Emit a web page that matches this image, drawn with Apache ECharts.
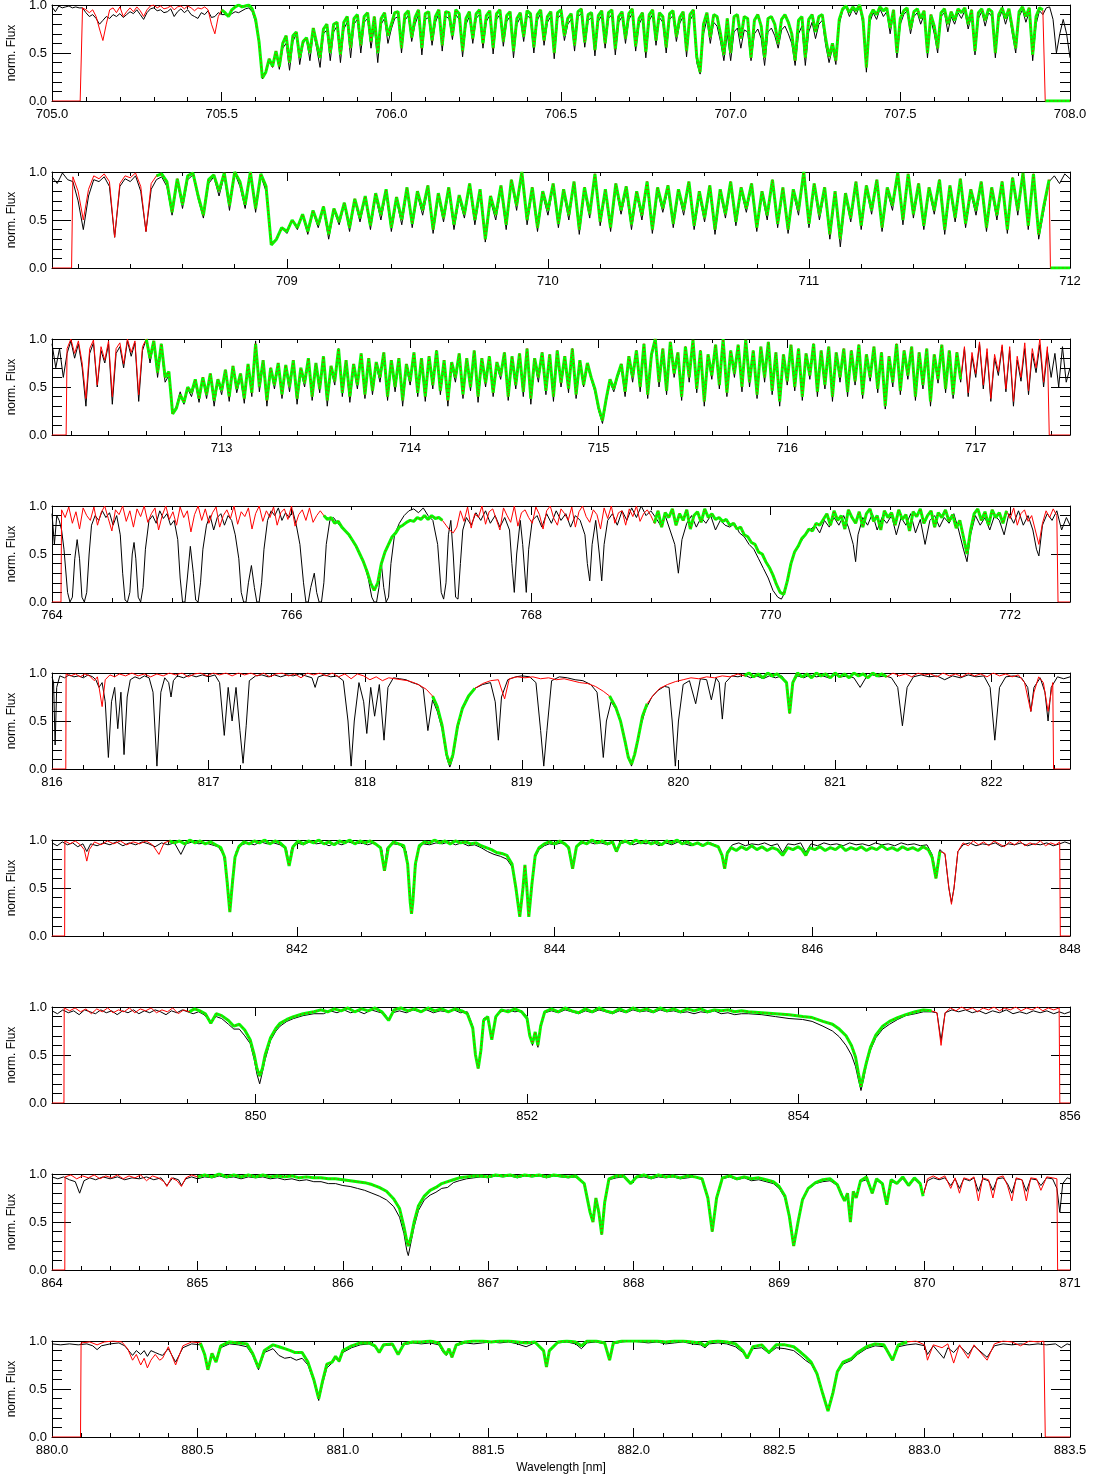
<!DOCTYPE html>
<html>
<head>
<meta charset="utf-8">
<script src="https://cdn.jsdelivr.net/npm/echarts@6/dist/echarts.min.js"></script>
<style>
  html, body { margin: 0; background: #fff; }
  #chart { width: 1093px; height: 1477px; }
</style>
</head>
<body>
<div id="chart"></div>
<script>
// ---- panel 1: 705.0 - 708.0 nm, flux in percent on a 0.01 nm grid ----
const p1Ticks = [705.0, 705.5, 706.0, 706.5, 707.0, 707.5, 708.0]
const p1Obs = [98,93,99,97,98,99,97,98,97,
  97,92,88,90,86,80,84,88,86,90,88,91,
  87,90,93,91,95,90,85,92,96,97, 94,95,92,93,96,88,93,96,92,95,
  90,88,86,92,90,94,87,88,92,90, 90,88,91,93,92,94,96,97,93,82,
  60,23,30,42,35,50,33,55,60,32, 62,70,38,60,65,42,72,55,35,70,
  74,42,72,78,40,75,82,45,80,85, 50,82,86,55,78,40,80,86,60,75,
  86,88,50,84,89,62,80,90,48,85,87,58,82,91,52,88,86,64,90,85,46,80,88,60,86,90,55,83,89,49,
  85,90,57,83,88,45,80,87,62,89,86,50,84,91,58,82,88,44,86,90,63,80,85,52,88,91,56,84,87,47,
  83,89,55,86,90,48,82,88,60,85,91,52,80,87,45,84,90,58,87,82,50,85,89,62,81,88,46,84,90,40,
  28,70,85,60,82,78,62,42,70,42, 72,76,55,74,72,42,70,75,65,37,
  72,76,68,55,74,78,70,60,37,70, 78,37,72,82,65,80,84,58,40,55,
  38,80,94,98,88,96,90,99,80,30, 82,92,85,96,88,93,70,92,45,80,
  90,94,70,88,92,80,90,45,85,70, 50,88,92,72,88,80,92,86,94,75,
  90,48,86,93,78,92,88,45,85,94, 80,92,70,50,88,95,82,93,42,80,
  94,90,97,98,85,50,70,85,70,45]
const p1Model = [97,95,92,95,88,75,63,80,95,97,92,98,
  88,93,97,93,98,94,88,95,99,100, 97,99,96,97,99,95,98,99,96,99,
  97,94,97,96,98,95,80,70,88,95, 92,88,95,98,100,98,99,100,96,85,
  62,24,30,44,36,52,36,60,68,40, 68,72,45,62,66,50,76,60,45,75,
  80,50,80,82,48,82,88,55,86,90, 58,88,92,62,88,50,86,92,68,80,
  92,93,55,90,94,66,87,95,55,91,93,63,88,95,58,93,92,68,95,91,52,86,93,65,91,95,60,89,94,55,
  91,95,62,89,93,52,86,92,67,94,91,56,90,95,63,88,93,50,92,95,68,86,91,58,93,96,61,90,92,53,
  89,94,60,92,95,54,88,93,65,91,96,57,86,92,51,90,95,63,92,88,56,91,94,67,87,93,52,90,95,46,
  30,80,92,66,90,88,70,48,86,50, 88,90,65,88,86,45,84,90,78,45,
  86,88,80,60,85,90,82,70,42,84, 88,45,85,90,72,88,90,65,46,60,
  42,85,96,99,92,98,94,100,85,35, 88,95,90,98,94,97,76,95,50,86,
  94,97,75,93,96,86,94,50,90,78, 55,92,96,80,93,84,96,92,97,80,
  95,52,92,96,84,96,93,50,90,97, 86,96,76,55,93,98,88,97,48,88,
  97,95]
const p1ModelRange = [705.083, 707.927]
const p1Fit = [[705.50, 708.0]]

// ---- panel 2: 708.1 - 712.0 nm, 0.02 nm grid ----
const p2Ticks = [709, 710, 711, 712]
const p2Obs = [95,88,99,92,
  90,70,40,75,92,90,95,85,32,85,93,90,96,80,38,82,92,
  95,85,55,90,62,92,97,72,52,88,95,75,96,60,99,85,62,99,58,96,80,26,30,42,36,50,
  40,55,35,58,42,62,30,60,45,66,38,70,48,72,
  40,74,50,78,38,70,45,80,42,76,55,82,36,74,48,80,40,72,52,85,
  45,78,27,70,50,82,40,90,60,100,45,80,38,76,55,84,42,78,50,88,
  35,80,52,98,44,78,38,84,56,80,40,76,50,86,36,80,58,82,42,78,
  55,88,40,75,48,82,35,78,52,86,44,80,58,84,38,76,50,90,42,80,
  36,78,55,100,42,84,50,80,30,76,22,74,48,86,40,82,56,90,38,80,
  60,98,45,96,52,84,40,80,56,88,35,82,48,90,42,78,55,86,38,80,
  50,88,36,92,55,98,40,96,30,60,
  90,96,88,98,93]
const p2Model = [95,80,50,82,96,93,98,90,32,88,96,94,99,85,38,88,96,
  98,90,58,93,66,96,99,75,55,92,97,80,99,65,100,90,66,100,62,98,85,24,30,42,38,50,
  42,56,38,60,45,64,35,62,48,68,42,72,52,75,
  44,78,55,82,42,74,50,84,46,80,60,86,40,78,52,84,45,76,56,88,
  50,82,30,75,55,86,45,92,65,100,50,84,42,80,60,88,46,82,55,90,
  40,84,56,98,48,82,42,88,60,85,45,80,55,90,40,84,62,86,46,82,
  60,90,44,80,52,86,40,82,56,90,48,84,62,88,42,80,55,92,46,84,
  40,82,60,100,46,88,55,84,35,80,30,78,52,90,44,86,60,92,42,84,
  65,99,50,98,56,88,44,84,60,92,40,86,52,93,46,82,60,90,42,84,
  55,90,40,94,60,99,44,98,35,65,92]
const p2ModelRange = [708.175, 711.925]
const p2Fit = [[708.49, 712.0]]

// ---- panel 3: 712.1 - 717.5 nm, 0.02 nm grid ----
const p3Ticks = [713, 714, 715, 716, 717]
const p3Obs = [95,70,90,60,
  85,98,80,95,70,30,85,96,50,88,75,95,32,85,92,70,98,82,96,35,88,100,75,96,60,90,55,62,22,30,45,32,48,
  40,55,34,58,38,62,30,56,42,66,35,70,44,60,33,72,40,98,45,75,30,68,48,72,
  38,70,45,76,32,66,50,78,36,72,44,80,30,68,52,90,40,74,34,70,48,82,38,76,42,72,55,84,36,74,
  45,78,30,70,52,85,40,76,35,80,48,88,42,74,30,72,55,82,38,78,46,86,34,76,50,80,40,72,58,84,
  36,78,48,82,40,88,32,76,55,84,42,80,35,86,50,78,44,90,38,74,
  50,72,58,45,25,12,35,55,45,60,
  70,40,78,55,85,45,92,38,80,100,50,88,42,95,60,82,36,90,55,98,44,86,30,80,58,92,48,100,40,85,
  60,92,45,98,50,86,38,90,55,96,42,84,30,80,52,92,46,88,36,82,58,94,40,86,48,90,35,84,55,88,
  40,86,52,92,38,80,56,90,44,84,27,78,50,94,42,86,58,90,36,82,48,88,30,80,54,92,44,86,38,84,
  55,90,40,82,60,95,48,86,35,80,62,92,45,88,30,78,56,90,42,85,65,94,50,88,
  60,85,50,92,55,70]
const p3Model = [90,100,85,98,75,38,90,99,52,92,78,98,40,90,96,74,100,86,98,42,92,100,80,98,65,95,60,66,22,28,42,34,50,
  44,58,38,60,42,64,36,58,46,68,40,72,48,64,38,74,44,95,50,78,36,70,52,75,
  42,73,50,78,38,70,54,80,40,75,48,82,36,72,56,90,44,78,40,74,52,85,42,80,46,76,60,86,40,78,
  50,80,36,74,56,86,44,80,40,82,52,88,46,78,36,76,60,85,42,80,50,88,40,80,54,82,44,76,62,86,
  40,82,52,85,45,90,38,80,60,86,46,84,40,88,54,82,48,90,42,78,
  52,75,60,48,28,15,38,58,48,62,
  74,45,82,60,88,50,95,42,84,100,55,90,46,97,64,86,40,92,60,99,48,88,35,84,62,94,52,100,44,88,
  64,94,50,99,55,88,42,92,60,97,46,86,35,84,56,94,50,90,40,85,62,95,45,88,52,92,40,86,60,90,
  45,88,56,94,42,84,60,92,48,86,30,82,55,95,46,88,62,92,40,86,52,90,35,84,58,94,48,88,42,86,
  58,92,44,86,64,97,52,90,38,84,66,94,48,92,35,82,60,96,46,90,70,100,55,92]
const p3ModelRange = [712.175, 717.39]
const p3Fit = [[712.60, 716.93]]

// ---- panel 4: 764 - 772.5 nm ----
const p4Ticks = [764, 766, 768, 770, 772]
const p4Obs = [[764.00,0.92],[764.02,0.6],[764.04,0.9],[764.06,0.85],[764.08,0.75],[764.10,0.55],[764.13,0.1],[764.15,0],[764.17,0.05],[764.19,0.45],[764.21,0.65],[764.23,0.45],[764.25,0.05],[764.27,0],[764.29,0.1],[764.31,0.5],[764.33,0.8],[764.36,0.9],[764.39,0.85],[764.42,0.95],[764.45,0.88],[764.48,0.93],[764.51,0.8],[764.54,0.9],[764.57,0.7],[764.59,0.3],[764.61,0.02],[764.63,0],[764.65,0.1],[764.67,0.5],[764.685,0.62],[764.70,0.45],[764.72,0.05],[764.74,0],[764.76,0.15],[764.78,0.55],[764.81,0.85],[764.84,0.9],[764.87,0.82],[764.90,0.95],[764.93,0.87],[764.96,0.92],[764.99,0.8],[765.02,0.85],[765.05,0.65],[765.07,0.25],[765.09,0],[765.11,0],[765.13,0.25],[765.155,0.58],[765.18,0.3],[765.20,0.02],[765.22,0],[765.24,0.2],[765.26,0.55],[765.29,0.8],[765.32,0.9],[765.35,0.75],[765.38,0.88],[765.41,0.92],[765.44,0.8],[765.47,0.9],[765.50,0.85],[765.53,0.7],[765.56,0.45],[765.58,0.1],[765.60,0],[765.62,0],[765.64,0.2],[765.665,0.38],[765.69,0.15],[765.71,0],[765.73,0],[765.75,0.2],[765.77,0.55],[765.80,0.85],[765.83,0.95],[765.86,0.9],[765.89,0.98],[765.92,0.85],[765.95,0.93],[765.98,0.88],[766.01,0.95],[766.04,0.8],[766.07,0.6],[766.10,0.2],[766.12,0],[766.14,0],[766.16,0.15],[766.19,0.3],[766.21,0.1],[766.23,0],[766.25,0],[766.27,0.2],[766.29,0.6],[766.32,0.85],[766.35,0.88],[766.40,0.8],[766.45,0.74],[766.50,0.65],[766.55,0.55],[766.60,0.42],[766.64,0.25],[766.67,0.05],[766.69,0],[766.71,0],[766.73,0.15],[766.75,0.4],[766.77,0.15],[766.79,0],[766.81,0.05],[766.83,0.4],[766.86,0.7],[766.90,0.82],[766.94,0.9],[766.98,0.95],[767.02,0.97],[767.06,0.93],[767.10,0.98],[767.14,0.9],[767.18,0.85],[767.22,0.6],[767.25,0.1],[767.27,0.03],[767.29,0.2],[767.31,0.7],[767.33,0.85],[767.35,0.5],[767.37,0.05],[767.39,0.03],[767.41,0.4],[767.43,0.75],[767.46,0.88],[767.50,0.8],[767.54,0.93],[767.58,0.85],[767.62,0.95],[767.66,0.82],[767.70,0.9],[767.74,0.78],[767.78,0.88],[767.82,0.75],[767.84,0.4],[767.86,0.1],[767.88,0.5],[767.91,0.85],[767.93,0.6],[767.96,0.1],[767.98,0.55],[768.01,0.85],[768.05,0.9],[768.09,0.78],[768.13,0.92],[768.17,0.82],[768.21,0.95],[768.25,0.85],[768.29,0.92],[768.33,0.78],[768.37,0.9],[768.41,0.85],[768.45,0.7],[768.47,0.4],[768.49,0.22],[768.51,0.6],[768.54,0.85],[768.57,0.5],[768.59,0.22],[768.61,0.6],[768.64,0.85],[768.68,0.92],[768.72,0.8],[768.76,0.95],[768.80,0.85],[768.84,0.98],[768.88,0.88],[768.92,1.0],[768.96,0.9],[769.00,0.95],[769.04,0.88],[769.08,0.8],[769.12,0.9],[769.16,0.75],[769.20,0.6],[769.23,0.3],[769.26,0.65],[769.30,0.82],[769.34,0.9],[769.38,0.78],[769.42,0.88],[769.46,0.82],[769.50,0.9],[769.54,0.75],[769.58,0.85],[769.62,0.8],[769.66,0.78],[769.70,0.82],[769.74,0.72],[769.78,0.68],[769.82,0.6],[769.86,0.55],[769.90,0.45],[769.94,0.35],[769.98,0.25],[770.02,0.12],[770.06,0.05],[770.09,0.03],[770.12,0.1],[770.15,0.3],[770.18,0.45],[770.21,0.55],[770.25,0.62],[770.29,0.7],[770.33,0.75],[770.37,0.8],[770.41,0.72],[770.45,0.85],[770.49,0.78],[770.53,0.88],[770.57,0.8],[770.61,0.9],[770.65,0.78],[770.69,0.6],[770.71,0.42],[770.73,0.7],[770.77,0.88],[770.81,0.8],[770.85,0.92],[770.89,0.75],[770.93,0.88],[770.97,0.82],[771.01,0.9],[771.05,0.7],[771.09,0.88],[771.13,0.8],[771.17,0.92],[771.21,0.72],[771.25,0.86],[771.29,0.6],[771.33,0.85],[771.37,0.9],[771.41,0.78],[771.45,0.88],[771.49,0.82],[771.53,0.92],[771.57,0.75],[771.61,0.55],[771.64,0.42],[771.67,0.7],[771.71,0.9],[771.75,0.8],[771.79,0.88],[771.83,0.75],[771.87,0.9],[771.91,0.85],[771.95,0.7],[771.99,0.92],[772.03,0.82],[772.07,0.95],[772.11,0.8],[772.15,0.9],[772.19,0.75],[772.22,0.55],[772.24,0.48],[772.27,0.8],[772.31,0.92],[772.35,0.85],[772.39,0.95],[772.43,0.75],[772.47,0.88],[772.50,0.8]]
// model on a 0.03 nm grid from 764.08 nm, percent
const p4Model = [96,88,99,82,94,76,98,90,85,99, 80,93,100,87,74,96,91,100,84,95,
  78,97,89,100,83,92,98,75,90,100, 86,94,80,99,88,95,73,91,100,85,
  97,82,93,99,78,90,96,87,100,81, 94,89,98,76,92,100,84,95,88,99,
  80,93,97,86,100,79,91,96,85,98, 83,90,95,
  90,86,88,82,84,78,74,70,64,58,50,42,32,20,12,20,40,52,60,68,72,78,80,83,85,84,88,86,90,
  86,90,87,88,85,80,75,72,78,
  95,84,99,77,92,88,100,81,94,97, 86,75,98,90,83,100,79,93,96,88,
  82,99,91,76,95,100,87,80,97,92, 85,99,78,94,100,89,83,96,91,76,
  98,87,100,82,93,95,80,97,89,100, 84,92,96,
  90,82,95,78,93,88,97,80,92,85,96,76,90,94,83,97,88,92,86,
  88,84,86,80,82,76,78,70,68,62,60,52,50,42,36,28,18,10,8,22,40,52,58,66,70,76,74,82,80,86,
  92,80,95,85,90,76,96,88,82,94, 78,92,97,84,90,75,95,88,93,80,
  96,86,91,74,94,89,97,82,90,95, 78,93,88,96,84,91,77,85,68,50,
  75,92,97,85,94,80,96,88,93,82, 95,87,98,80,92,96,84,90,75,60,
  82,95,88,97,90]
const p4ModelRange = [764.075, 772.40]
const p4Fit = [[766.26, 767.26], [769.03, 771.97]]

// ---- panel 5: 816 - 822.5 nm ----
const p5Ticks = [816, 817, 818, 819, 820, 821, 822]
const p5Obs = [[816.00,0.96],[816.01,0.9],[816.02,0.25],[816.03,0.85],[816.05,0.97],[816.08,0.95],[816.11,0.98],[816.14,0.96],[816.17,0.97],[816.20,0.95],[816.23,0.98],[816.26,0.96],[816.28,0.93],[816.30,0.85],[816.32,0.9],[816.34,0.7],[816.36,0.12],[816.38,0.7],[816.40,0.85],[816.42,0.42],[816.44,0.8],[816.46,0.15],[816.48,0.75],[816.50,0.93],[816.53,0.96],[816.56,0.94],[816.59,0.97],[816.62,0.95],[816.645,0.8],[816.67,0.03],[816.695,0.8],[816.72,0.95],[816.745,0.9],[816.76,0.75],[816.775,0.92],[816.80,0.97],[816.84,0.95],[816.88,0.98],[816.92,0.96],[816.96,0.98],[817.00,0.96],[817.04,0.98],[817.07,0.9],[817.10,0.35],[817.125,0.85],[817.15,0.5],[817.175,0.85],[817.20,0.4],[817.22,0.06],[817.24,0.45],[817.26,0.92],[817.30,0.97],[817.34,0.98],[817.38,0.96],[817.42,0.98],[817.46,0.96],[817.50,0.98],[817.54,0.97],[817.58,0.99],[817.62,0.97],[817.66,0.95],[817.68,0.85],[817.70,0.96],[817.74,0.98],[817.78,0.96],[817.82,0.97],[817.86,0.92],[817.89,0.5],[817.91,0.03],[817.93,0.5],[817.96,0.9],[817.99,0.7],[818.01,0.37],[818.035,0.85],[818.06,0.55],[818.09,0.88],[818.12,0.3],[818.145,0.85],[818.18,0.95],[818.22,0.94],[818.26,0.93],[818.30,0.9],[818.34,0.88],[818.37,0.84],[818.40,0.4],[818.43,0.72],[818.46,0.6],[818.49,0.42],[818.52,0.12],[818.54,0.02],[818.56,0.12],[818.59,0.42],[818.62,0.62],[818.66,0.75],[818.70,0.84],[818.75,0.88],[818.80,0.9],[818.83,0.7],[818.85,0.3],[818.87,0.75],[818.91,0.93],[818.96,0.96],[819.00,0.97],[819.05,0.96],[819.09,0.9],[819.12,0.4],[819.14,0.03],[819.16,0.4],[819.19,0.92],[819.24,0.96],[819.29,0.95],[819.34,0.93],[819.39,0.92],[819.44,0.88],[819.48,0.8],[819.50,0.5],[819.52,0.12],[819.54,0.5],[819.57,0.7],[819.61,0.6],[819.64,0.45],[819.67,0.2],[819.70,0.03],[819.73,0.2],[819.76,0.45],[819.79,0.62],[819.83,0.75],[819.87,0.82],[819.91,0.86],[819.94,0.85],[819.96,0.5],[819.98,0.03],[820.00,0.5],[820.03,0.88],[820.07,0.92],[820.11,0.68],[820.14,0.94],[820.18,0.93],[820.21,0.72],[820.24,0.95],[820.26,0.9],[820.28,0.52],[820.30,0.9],[820.34,0.97],[820.38,0.96],[820.42,0.98],[820.46,0.95],[820.50,0.97],[820.54,0.94],[820.58,0.97],[820.62,0.95],[820.66,0.97],[820.69,0.9],[820.71,0.65],[820.73,0.9],[820.76,0.97],[820.80,0.95],[820.84,0.98],[820.88,0.96],[820.92,0.97],[820.96,0.95],[821.00,0.98],[821.04,0.96],[821.08,0.97],[821.12,0.95],[821.16,0.85],[821.20,0.96],[821.24,0.98],[821.28,0.96],[821.32,0.97],[821.36,0.95],[821.40,0.85],[821.43,0.45],[821.46,0.85],[821.50,0.96],[821.55,0.98],[821.60,0.96],[821.65,0.97],[821.70,0.93],[821.75,0.97],[821.80,0.95],[821.85,0.98],[821.90,0.96],[821.95,0.97],[821.99,0.85],[822.02,0.3],[822.05,0.85],[822.09,0.96],[822.14,0.97],[822.19,0.95],[822.23,0.85],[822.25,0.6],[822.27,0.85],[822.31,0.95],[822.34,0.8],[822.36,0.5],[822.38,0.85],[822.42,0.96],[822.46,0.94],[822.50,0.96]]
const p5Model = [[816.09,0.99],[816.12,0.97],[816.15,0.99],[816.18,0.96],[816.21,0.99],[816.24,0.97],[816.27,0.92],[816.29,0.96],[816.32,0.65],[816.34,0.93],[816.37,0.98],[816.40,0.96],[816.43,0.99],[816.47,0.97],[816.51,1.0],[816.55,0.97],[816.59,0.99],[816.63,0.96],[816.67,0.99],[816.71,0.97],[816.75,1.0],[816.79,0.98],[816.83,1.0],[816.87,0.96],[816.91,0.99],[816.95,1.0],[816.99,0.97],[817.03,1.0],[817.07,0.98],[817.11,1.0],[817.15,0.97],[817.19,1.0],[817.23,0.98],[817.27,1.0],[817.31,0.97],[817.35,1.0],[817.39,0.96],[817.43,0.99],[817.47,1.0],[817.51,0.97],[817.55,0.99],[817.59,0.95],[817.63,1.0],[817.67,0.98],[817.71,1.0],[817.75,0.97],[817.79,1.0],[817.83,0.96],[817.87,0.99],[817.91,0.94],[817.95,0.99],[817.99,0.97],[818.03,0.93],[818.07,0.96],[818.11,0.92],[818.15,0.95],[818.19,0.94],[818.23,0.93],[818.27,0.92],[818.31,0.9],[818.35,0.87],[818.39,0.83],[818.43,0.76],[818.46,0.65],[818.49,0.46],[818.52,0.15],[818.54,0.05],[818.56,0.15],[818.59,0.45],[818.62,0.63],[818.66,0.76],[818.70,0.84],[818.75,0.89],[818.80,0.92],[818.85,0.93],[818.89,0.73],[818.92,0.94],[818.97,0.96],[819.02,0.95],[819.07,0.96],[819.12,0.94],[819.17,0.95],[819.22,0.93],[819.27,0.94],[819.32,0.92],[819.37,0.9],[819.42,0.89],[819.47,0.86],[819.52,0.81],[819.56,0.76],[819.60,0.64],[819.63,0.5],[819.66,0.28],[819.68,0.12],[819.70,0.05],[819.72,0.15],[819.74,0.3],[819.77,0.55],[819.80,0.68],[819.84,0.77],[819.88,0.84],[819.93,0.88],[819.98,0.91],[820.03,0.93],[820.08,0.95],[820.13,0.94],[820.18,0.96],[820.23,0.95],[820.28,0.97],[820.33,0.96],[820.38,0.99],[820.42,0.97],[820.45,1.0],[820.48,0.96],[820.51,0.99],[820.54,0.95],[820.57,1.0],[820.60,0.97],[820.63,0.99],[820.66,0.95],[820.69,0.9],[820.71,0.58],[820.73,0.9],[820.76,1.0],[820.79,0.96],[820.82,0.99],[820.85,0.95],[820.88,1.0],[820.91,0.97],[820.94,0.99],[820.97,0.95],[821.00,1.0],[821.03,0.96],[821.06,0.99],[821.09,0.95],[821.12,1.0],[821.15,0.97],[821.18,0.99],[821.21,0.95],[821.24,1.0],[821.27,0.97],[821.30,0.99],[821.33,0.96],[821.37,1.0],[821.41,0.97],[821.45,0.99],[821.49,0.96],[821.53,1.0],[821.57,0.98],[821.61,0.99],[821.65,0.96],[821.69,1.0],[821.73,0.97],[821.77,0.99],[821.81,0.96],[821.85,1.0],[821.89,0.97],[821.93,0.99],[821.97,0.96],[822.01,1.0],[822.05,0.97],[822.09,0.99],[822.13,0.96],[822.17,0.98],[822.21,0.9],[822.23,0.75],[822.25,0.6],[822.27,0.8],[822.30,0.96],[822.33,0.9],[822.36,0.6],[822.38,0.8],[822.39,0.9]]
const p5ModelRange = [816.088, 822.395]
const p5Fit = [[818.43, 818.70], [819.55, 819.80], [820.39, 821.35]]

// ---- panel 6: 840.1 - 848.0 nm ----
const p6Ticks = [842, 844, 846, 848]
const p6Obs = [[840.10,0.97],[840.14,0.94],[840.18,0.98],[840.22,0.95],[840.26,0.97],[840.30,0.93],[840.34,0.96],[840.37,0.88],[840.40,0.96],[840.45,0.94],[840.50,0.97],[840.55,0.95],[840.60,0.98],[840.65,0.94],[840.70,0.97],[840.75,0.95],[840.80,0.98],[840.85,0.96],[840.90,0.93],[840.95,0.97],[841.00,0.95],[841.05,0.97],[841.10,0.85],[841.14,0.96],[841.19,0.98],[841.24,0.96],[841.29,0.97],[841.34,0.95],[841.39,0.93],[841.43,0.85],[841.46,0.6],[841.48,0.3],[841.50,0.6],[841.53,0.88],[841.57,0.95],[841.62,0.97],[841.67,0.95],[841.72,0.98],[841.77,0.96],[841.82,0.97],[841.87,0.95],[841.92,0.9],[841.94,0.75],[841.96,0.92],[842.00,0.97],[842.05,0.95],[842.10,0.98],[842.15,0.96],[842.20,0.97],[842.25,0.94],[842.30,0.97],[842.35,0.95],[842.40,0.98],[842.45,0.96],[842.50,0.97],[842.55,0.95],[842.60,0.97],[842.66,0.9],[842.68,0.7],[842.70,0.92],[842.75,0.96],[842.80,0.95],[842.85,0.88],[842.87,0.6],[842.89,0.25],[842.91,0.6],[842.94,0.9],[842.98,0.96],[843.03,0.95],[843.08,0.97],[843.13,0.96],[843.18,0.98],[843.23,0.95],[843.28,0.97],[843.33,0.94],[843.38,0.95],[843.43,0.92],[843.48,0.88],[843.53,0.85],[843.58,0.83],[843.63,0.8],[843.67,0.72],[843.70,0.5],[843.73,0.22],[843.755,0.5],[843.77,0.72],[843.785,0.5],[843.80,0.22],[843.825,0.55],[843.85,0.82],[843.88,0.9],[843.92,0.94],[843.96,0.96],[844.00,0.95],[844.05,0.97],[844.10,0.94],[844.14,0.72],[844.17,0.94],[844.21,0.96],[844.26,0.98],[844.31,0.96],[844.36,0.97],[844.41,0.95],[844.45,0.97],[844.48,0.9],[844.51,0.96],[844.56,0.98],[844.61,0.95],[844.66,0.97],[844.71,0.96],[844.76,0.98],[844.81,0.94],[844.86,0.97],[844.91,0.95],[844.96,0.98],[845.01,0.96],[845.06,0.94],[845.11,0.97],[845.16,0.95],[845.21,0.97],[845.26,0.94],[845.30,0.85],[845.32,0.72],[845.34,0.88],[845.38,0.95],[845.43,0.97],[845.48,0.94],[845.53,0.96],[845.58,0.95],[845.63,0.97],[845.68,0.94],[845.73,0.96],[845.77,0.87],[845.81,0.96],[845.86,0.95],[845.91,0.97],[845.95,0.87],[845.99,0.96],[846.04,0.94],[846.09,0.97],[846.14,0.95],[846.19,0.96],[846.24,0.94],[846.29,0.97],[846.34,0.95],[846.39,0.96],[846.44,0.94],[846.49,0.97],[846.54,0.95],[846.59,0.96],[846.64,0.94],[846.69,0.97],[846.74,0.95],[846.79,0.96],[846.84,0.94],[846.89,0.95],[846.93,0.85],[846.96,0.65],[846.99,0.9],[847.03,0.85],[847.06,0.5],[847.08,0.35],[847.10,0.5],[847.13,0.88],[847.17,0.95],[847.22,0.97],[847.27,0.94],[847.32,0.96],[847.37,0.95],[847.42,0.97],[847.47,0.93],[847.52,0.96],[847.57,0.95],[847.62,0.97],[847.67,0.94],[847.72,0.96],[847.77,0.95],[847.82,0.97],[847.87,0.94],[847.92,0.96],[847.96,0.98],[848.00,0.96]]
const p6Model = [[840.20,0.99],[840.24,0.96],[840.28,0.99],[840.32,0.95],[840.35,0.9],[840.37,0.78],[840.39,0.9],[840.43,0.98],[840.48,0.95],[840.53,0.99],[840.58,0.96],[840.63,0.99],[840.68,0.95],[840.73,0.98],[840.78,0.96],[840.83,0.99],[840.88,0.95],[840.93,0.85],[840.97,0.97],[841.01,0.99],[841.05,0.97],[841.09,0.99],[841.13,0.96],[841.17,1.0],[841.21,0.97],[841.25,0.99],[841.29,0.96],[841.33,0.98],[841.37,0.95],[841.41,0.92],[841.44,0.82],[841.46,0.55],[841.48,0.25],[841.50,0.55],[841.52,0.82],[841.55,0.93],[841.59,0.98],[841.63,0.96],[841.67,0.99],[841.71,0.97],[841.75,1.0],[841.79,0.96],[841.83,0.99],[841.87,0.97],[841.91,0.92],[841.94,0.73],[841.97,0.93],[842.01,0.99],[842.05,0.96],[842.09,0.99],[842.13,0.97],[842.17,1.0],[842.21,0.96],[842.25,0.98],[842.29,0.95],[842.33,0.99],[842.37,0.97],[842.41,1.0],[842.45,0.96],[842.49,0.99],[842.53,0.97],[842.57,0.99],[842.61,0.96],[842.65,0.92],[842.68,0.68],[842.71,0.92],[842.75,0.98],[842.79,0.96],[842.83,0.94],[842.86,0.75],[842.88,0.35],[842.89,0.23],[842.90,0.35],[842.92,0.75],[842.95,0.94],[842.99,0.98],[843.03,0.97],[843.07,1.0],[843.11,0.97],[843.15,0.99],[843.19,0.96],[843.23,0.99],[843.27,0.97],[843.31,0.98],[843.35,0.96],[843.39,0.97],[843.43,0.94],[843.47,0.92],[843.51,0.9],[843.55,0.87],[843.59,0.86],[843.63,0.84],[843.67,0.75],[843.70,0.5],[843.73,0.2],[843.755,0.5],[843.77,0.74],[843.785,0.5],[843.80,0.2],[843.825,0.55],[843.85,0.84],[843.88,0.92],[843.92,0.96],[843.96,0.98],[844.00,0.96],[844.04,0.99],[844.08,0.96],[844.11,0.92],[844.14,0.7],[844.17,0.93],[844.21,0.98],[844.25,0.96],[844.29,1.0],[844.33,0.97],[844.37,0.99],[844.41,0.96],[844.45,0.98],[844.48,0.88],[844.51,0.97],[844.55,0.99],[844.59,0.96],[844.63,1.0],[844.67,0.97],[844.71,0.99],[844.75,0.96],[844.79,0.98],[844.83,0.95],[844.87,0.99],[844.91,0.97],[844.95,1.0],[844.99,0.96],[845.03,0.98],[845.07,0.95],[845.11,0.97],[845.15,0.94],[845.19,0.97],[845.23,0.95],[845.27,0.93],[845.30,0.84],[845.32,0.7],[845.34,0.86],[845.37,0.92],[845.41,0.89],[845.45,0.93],[845.49,0.9],[845.53,0.94],[845.57,0.9],[845.61,0.93],[845.65,0.89],[845.69,0.92],[845.73,0.9],[845.77,0.84],[845.81,0.92],[845.85,0.9],[845.89,0.93],[845.92,0.9],[845.95,0.84],[845.98,0.92],[846.02,0.9],[846.06,0.93],[846.10,0.89],[846.14,0.92],[846.18,0.9],[846.22,0.94],[846.26,0.89],[846.30,0.92],[846.34,0.9],[846.38,0.93],[846.42,0.89],[846.46,0.92],[846.50,0.9],[846.54,0.94],[846.58,0.9],[846.62,0.92],[846.66,0.89],[846.70,0.93],[846.74,0.9],[846.78,0.92],[846.82,0.89],[846.86,0.93],[846.90,0.9],[846.93,0.82],[846.96,0.6],[846.99,0.88],[847.03,0.86],[847.06,0.5],[847.08,0.33],[847.10,0.5],[847.13,0.88],[847.17,0.97],[847.21,0.94],[847.25,0.99],[847.29,0.95],[847.33,0.98],[847.37,0.94],[847.41,0.99],[847.45,0.96],[847.49,0.93],[847.53,0.98],[847.57,0.95],[847.61,0.99],[847.65,0.94],[847.69,0.97],[847.73,0.95],[847.77,0.99],[847.81,0.94],[847.85,0.97],[847.89,0.95],[847.92,0.98]]
const p6ModelRange = [840.198, 847.925]
const p6Fit = [[841.0, 846.99]]

// ---- panel 7: 848.5 - 856 nm ----
const p7Ticks = [850, 852, 854, 856]
const p7Obs = [[848.50,0.96],[848.54,0.93],[848.58,0.97],[848.62,0.94],[848.66,0.96],[848.70,0.92],[848.74,0.97],[848.78,0.95],[848.82,0.93],[848.86,0.97],[848.90,0.94],[848.94,0.96],[848.98,0.92],[849.02,0.96],[849.06,0.94],[849.10,0.97],[849.14,0.93],[849.18,0.96],[849.22,0.94],[849.26,0.97],[849.30,0.95],[849.34,0.92],[849.38,0.96],[849.42,0.94],[849.46,0.97],[849.50,0.95],[849.54,0.93],[849.58,0.95],[849.62,0.92],[849.67,0.84],[849.71,0.9],[849.75,0.88],[849.80,0.82],[849.84,0.77],[849.88,0.77],[849.92,0.7],[849.96,0.62],[849.99,0.45],[850.01,0.3],[850.03,0.2],[850.05,0.32],[850.07,0.45],[850.11,0.65],[850.15,0.75],[850.18,0.8],[850.23,0.85],[850.28,0.88],[850.35,0.91],[850.43,0.93],[850.50,0.93],[850.55,0.96],[850.60,0.94],[850.65,0.97],[850.70,0.94],[850.75,0.96],[850.80,0.93],[850.85,0.97],[850.90,0.95],[850.95,0.93],[850.98,0.87],[851.01,0.94],[851.06,0.96],[851.11,0.94],[851.16,0.97],[851.21,0.95],[851.26,0.97],[851.31,0.94],[851.36,0.96],[851.41,0.95],[851.46,0.97],[851.51,0.94],[851.56,0.95],[851.60,0.8],[851.62,0.5],[851.64,0.37],[851.66,0.55],[851.68,0.88],[851.71,0.9],[851.74,0.67],[851.77,0.9],[851.81,0.95],[851.86,0.97],[851.91,0.95],[851.96,0.96],[852.00,0.9],[852.02,0.7],[852.04,0.6],[852.06,0.72],[852.08,0.58],[852.10,0.8],[852.13,0.94],[852.18,0.96],[852.23,0.94],[852.28,0.97],[852.33,0.95],[852.38,0.93],[852.43,0.96],[852.48,0.94],[852.53,0.97],[852.58,0.95],[852.63,0.93],[852.68,0.96],[852.73,0.94],[852.78,0.97],[852.83,0.95],[852.88,0.96],[852.93,0.94],[852.98,0.97],[853.03,0.95],[853.08,0.96],[853.13,0.94],[853.18,0.95],[853.23,0.93],[853.28,0.95],[853.33,0.94],[853.38,0.96],[853.43,0.93],[853.48,0.94],[853.53,0.92],[853.58,0.93],[853.63,0.93],[853.73,0.92],[853.83,0.9],[853.93,0.88],[854.03,0.87],[854.10,0.85],[854.18,0.8],[854.25,0.75],[854.30,0.69],[854.35,0.6],[854.39,0.5],[854.42,0.38],[854.44,0.25],[854.46,0.13],[854.48,0.25],[854.50,0.4],[854.53,0.55],[854.57,0.68],[854.62,0.77],[854.67,0.82],[854.73,0.87],[854.79,0.91],[854.86,0.93],[854.92,0.95],[854.98,0.95],[855.02,0.94],[855.05,0.65],[855.08,0.94],[855.13,0.97],[855.18,0.95],[855.23,0.97],[855.28,0.94],[855.33,0.96],[855.38,0.93],[855.43,0.96],[855.48,0.94],[855.53,0.97],[855.58,0.93],[855.63,0.95],[855.68,0.93],[855.73,0.96],[855.78,0.94],[855.83,0.96],[855.88,0.93],[855.92,0.95],[855.96,0.93],[856.00,0.95]]
const p7Model = [[848.59,0.99],[848.63,0.96],[848.67,0.99],[848.71,0.95],[848.75,0.98],[848.79,0.93],[848.83,0.98],[848.87,0.95],[848.91,0.99],[848.95,0.94],[848.99,0.97],[849.03,0.95],[849.07,0.99],[849.11,0.94],[849.15,0.98],[849.19,0.96],[849.23,0.99],[849.27,0.94],[849.31,0.97],[849.35,0.95],[849.39,0.99],[849.43,0.93],[849.47,0.97],[849.51,0.95],[849.55,0.98],[849.59,0.96],[849.63,0.93],[849.67,0.83],[849.71,0.93],[849.75,0.91],[849.80,0.86],[849.84,0.8],[849.88,0.82],[849.92,0.76],[849.96,0.66],[849.99,0.5],[850.01,0.36],[850.03,0.28],[850.05,0.36],[850.07,0.5],[850.11,0.68],[850.15,0.78],[850.18,0.83],[850.23,0.87],[850.28,0.9],[850.35,0.93],[850.43,0.95],[850.48,0.97],[850.53,0.95],[850.58,0.98],[850.63,0.96],[850.68,0.99],[850.73,0.95],[850.78,0.98],[850.83,0.96],[850.88,0.99],[850.93,0.95],[850.98,0.86],[851.02,0.97],[851.07,0.99],[851.12,0.96],[851.17,0.98],[851.22,0.95],[851.27,0.99],[851.32,0.96],[851.37,0.98],[851.42,0.95],[851.47,0.98],[851.52,0.96],[851.56,0.93],[851.60,0.78],[851.62,0.5],[851.64,0.36],[851.66,0.55],[851.68,0.86],[851.71,0.9],[851.74,0.66],[851.77,0.9],[851.81,0.97],[851.86,0.95],[851.91,0.98],[851.96,0.95],[852.00,0.88],[852.02,0.7],[852.04,0.62],[852.06,0.74],[852.08,0.6],[852.10,0.8],[852.13,0.95],[852.18,0.98],[852.23,0.95],[852.28,0.99],[852.33,0.96],[852.38,0.94],[852.43,0.98],[852.48,0.95],[852.53,0.99],[852.58,0.96],[852.63,0.94],[852.68,0.98],[852.73,0.95],[852.78,0.99],[852.83,0.96],[852.88,0.98],[852.93,0.95],[852.98,0.99],[853.03,0.96],[853.08,0.98],[853.13,0.95],[853.18,0.98],[853.23,0.96],[853.28,0.98],[853.33,0.95],[853.38,0.97],[853.43,0.96],[853.48,0.97],[853.53,0.95],[853.58,0.96],[853.63,0.95],[853.73,0.94],[853.83,0.93],[853.93,0.92],[854.03,0.9],[854.10,0.89],[854.18,0.85],[854.25,0.82],[854.30,0.77],[854.35,0.7],[854.39,0.6],[854.42,0.48],[854.44,0.32],[854.46,0.17],[854.48,0.3],[854.50,0.42],[854.53,0.58],[854.57,0.71],[854.62,0.8],[854.67,0.85],[854.73,0.89],[854.79,0.92],[854.86,0.95],[854.92,0.97],[854.98,0.96],[855.02,0.94],[855.05,0.6],[855.08,0.94],[855.12,0.99],[855.16,0.96],[855.20,1.0],[855.24,0.97],[855.28,0.99],[855.32,0.95],[855.36,0.99],[855.40,0.97],[855.44,1.0],[855.48,0.96],[855.52,0.99],[855.56,0.97],[855.60,1.0],[855.64,0.96],[855.68,0.99],[855.72,0.97],[855.76,1.0],[855.80,0.96],[855.84,0.99],[855.88,0.97],[855.92,0.99]]
const p7ModelRange = [848.588, 855.925]
const p7Fit = [[849.5, 855.01]]

// ---- panel 8: 864 - 871 nm ----
const p8Ticks = [864, 865, 866, 867, 868, 869, 870, 871]
const p8Obs = [[864.00,0.97],[864.04,0.95],[864.08,0.97],[864.12,0.94],[864.16,0.92],[864.19,0.8],[864.22,0.93],[864.26,0.96],[864.30,0.94],[864.35,0.97],[864.40,0.95],[864.45,0.97],[864.50,0.94],[864.55,0.96],[864.60,0.95],[864.65,0.97],[864.70,0.94],[864.75,0.96],[864.79,0.88],[864.83,0.96],[864.87,0.94],[864.89,0.88],[864.92,0.95],[864.96,0.97],[865.00,0.95],[865.05,0.97],[865.10,0.96],[865.15,0.98],[865.20,0.96],[865.25,0.97],[865.30,0.95],[865.35,0.97],[865.40,0.96],[865.45,0.97],[865.50,0.95],[865.55,0.96],[865.60,0.94],[865.65,0.95],[865.70,0.93],[865.75,0.94],[865.80,0.92],[865.85,0.92],[865.90,0.9],[865.95,0.9],[866.00,0.88],[866.05,0.87],[866.10,0.85],[866.15,0.83],[866.20,0.8],[866.25,0.77],[866.30,0.73],[866.35,0.66],[866.39,0.55],[866.42,0.38],[866.44,0.2],[866.45,0.15],[866.47,0.3],[866.49,0.45],[866.52,0.62],[866.56,0.73],[866.60,0.78],[866.64,0.81],[866.68,0.85],[866.72,0.86],[866.76,0.91],[866.80,0.93],[866.85,0.95],[866.90,0.96],[866.95,0.97],[867.00,0.96],[867.05,0.98],[867.10,0.97],[867.15,0.98],[867.20,0.96],[867.25,0.98],[867.30,0.97],[867.35,0.98],[867.40,0.96],[867.45,0.98],[867.50,0.97],[867.55,0.96],[867.60,0.97],[867.66,0.9],[867.70,0.6],[867.72,0.5],[867.74,0.75],[867.76,0.6],[867.78,0.37],[867.80,0.7],[867.83,0.94],[867.88,0.96],[867.93,0.97],[867.98,0.9],[868.02,0.96],[868.07,0.97],[868.12,0.95],[868.17,0.97],[868.22,0.96],[868.27,0.97],[868.32,0.95],[868.37,0.96],[868.42,0.97],[868.47,0.94],[868.51,0.75],[868.54,0.4],[868.57,0.75],[868.61,0.95],[868.66,0.97],[868.71,0.94],[868.76,0.96],[868.81,0.93],[868.86,0.94],[868.91,0.92],[868.96,0.9],[869.00,0.85],[869.04,0.75],[869.07,0.55],[869.10,0.25],[869.13,0.5],[869.16,0.72],[869.20,0.84],[869.25,0.9],[869.30,0.92],[869.35,0.93],[869.40,0.88],[869.43,0.8],[869.45,0.72],[869.47,0.8],[869.49,0.5],[869.51,0.82],[869.53,0.75],[869.56,0.92],[869.60,0.94],[869.64,0.8],[869.67,0.93],[869.71,0.9],[869.74,0.7],[869.77,0.92],[869.81,0.9],[869.85,0.95],[869.89,0.88],[869.93,0.94],[869.97,0.9],[869.99,0.78],[870.02,0.93],[870.06,0.96],[870.10,0.94],[870.14,0.96],[870.18,0.88],[870.21,0.95],[870.24,0.85],[870.27,0.95],[870.31,0.93],[870.34,0.96],[870.37,0.82],[870.40,0.95],[870.44,0.93],[870.47,0.83],[870.50,0.95],[870.54,0.96],[870.57,0.9],[870.60,0.8],[870.63,0.95],[870.67,0.94],[870.70,0.82],[870.73,0.95],[870.77,0.94],[870.80,0.88],[870.84,0.96],[870.88,0.95],[870.91,0.85],[870.93,0.6],[870.95,0.9],[870.98,0.96],[871.00,0.95]]
const p8Model = [[864.09,0.97],[864.13,0.99],[864.17,0.95],[864.21,0.98],[864.25,0.96],[864.29,0.99],[864.33,0.95],[864.37,0.98],[864.41,0.96],[864.45,0.99],[864.49,0.95],[864.53,0.98],[864.57,0.96],[864.61,0.99],[864.65,0.93],[864.69,0.98],[864.73,0.96],[864.77,0.92],[864.79,0.87],[864.82,0.96],[864.86,0.93],[864.89,0.87],[864.92,0.96],[864.96,0.99],[865.00,0.97],[865.05,0.99],[865.10,0.97],[865.15,1.0],[865.20,0.97],[865.25,0.99],[865.30,0.97],[865.35,0.99],[865.40,0.97],[865.45,0.99],[865.50,0.97],[865.55,0.98],[865.60,0.97],[865.65,0.98],[865.70,0.96],[865.75,0.97],[865.80,0.96],[865.85,0.96],[865.90,0.95],[865.95,0.95],[866.00,0.94],[866.05,0.93],[866.10,0.92],[866.15,0.91],[866.20,0.89],[866.25,0.86],[866.30,0.82],[866.35,0.74],[866.39,0.64],[866.42,0.45],[866.44,0.3],[866.45,0.25],[866.47,0.35],[866.49,0.5],[866.52,0.67],[866.56,0.77],[866.60,0.83],[866.64,0.86],[866.68,0.9],[866.72,0.92],[866.76,0.94],[866.80,0.96],[866.85,0.97],[866.90,0.98],[866.95,0.98],[867.00,0.97],[867.05,0.99],[867.10,0.98],[867.15,0.99],[867.20,0.97],[867.25,0.99],[867.30,0.98],[867.35,0.99],[867.40,0.97],[867.45,0.99],[867.50,0.98],[867.55,0.97],[867.60,0.98],[867.66,0.9],[867.70,0.6],[867.72,0.5],[867.74,0.75],[867.76,0.6],[867.78,0.37],[867.80,0.7],[867.83,0.95],[867.88,0.98],[867.93,0.98],[867.98,0.9],[868.02,0.97],[868.07,0.99],[868.12,0.96],[868.17,0.99],[868.22,0.97],[868.27,0.98],[868.32,0.96],[868.37,0.98],[868.42,0.97],[868.47,0.95],[868.51,0.75],[868.54,0.4],[868.57,0.75],[868.61,0.96],[868.66,0.98],[868.71,0.95],[868.76,0.97],[868.81,0.95],[868.86,0.96],[868.91,0.94],[868.96,0.92],[869.00,0.87],[869.04,0.77],[869.07,0.56],[869.10,0.25],[869.13,0.5],[869.16,0.73],[869.20,0.85],[869.25,0.91],[869.30,0.94],[869.35,0.95],[869.40,0.89],[869.43,0.78],[869.45,0.72],[869.47,0.8],[869.49,0.5],[869.51,0.82],[869.53,0.75],[869.56,0.93],[869.60,0.97],[869.64,0.8],[869.67,0.95],[869.71,0.9],[869.74,0.68],[869.77,0.94],[869.81,0.9],[869.85,0.97],[869.89,0.88],[869.93,0.96],[869.97,0.9],[869.99,0.77],[870.02,0.95],[870.06,0.98],[870.10,0.95],[870.14,0.98],[870.18,0.85],[870.21,0.96],[870.24,0.8],[870.27,0.96],[870.31,0.94],[870.34,0.97],[870.37,0.72],[870.40,0.96],[870.44,0.94],[870.47,0.75],[870.50,0.96],[870.54,0.98],[870.57,0.88],[870.60,0.72],[870.63,0.96],[870.67,0.94],[870.70,0.72],[870.73,0.96],[870.77,0.95],[870.80,0.83],[870.84,0.97],[870.88,0.96],[870.91,0.95]]
const p8ModelRange = [864.088, 870.915]
const p8Fit = [[865.0, 870.01]]

// ---- panel 9: 880 - 883.5 nm ----
const p9Ticks = [880.0, 880.5, 881.0, 881.5, 882.0, 882.5, 883.0, 883.5]
const p9Obs = [[880.00,0.97],[880.03,0.96],[880.06,0.97],[880.09,0.96],[880.12,0.97],[880.14,0.95],[880.155,0.91],[880.17,0.95],[880.20,0.97],[880.23,0.98],[880.25,0.95],[880.277,0.85],[880.29,0.9],[880.305,0.86],[880.317,0.9],[880.328,0.84],[880.34,0.9],[880.355,0.88],[880.37,0.86],[880.38,0.85],[880.40,0.92],[880.425,0.78],[880.45,0.93],[880.48,0.97],[880.51,0.96],[880.525,0.85],[880.536,0.72],[880.55,0.86],[880.564,0.79],[880.58,0.93],[880.61,0.97],[880.64,0.96],[880.67,0.94],[880.69,0.85],[880.71,0.7],[880.73,0.88],[880.76,0.92],[880.78,0.85],[880.80,0.82],[880.82,0.83],[880.84,0.8],[880.86,0.82],[880.88,0.75],[880.90,0.58],[880.917,0.38],[880.93,0.55],[880.945,0.72],[880.963,0.77],[880.975,0.82],[880.987,0.78],[881.00,0.88],[881.03,0.93],[881.06,0.96],[881.09,0.97],[881.11,0.94],[881.125,0.88],[881.14,0.95],[881.17,0.96],[881.19,0.87],[881.21,0.96],[881.24,0.98],[881.27,0.97],[881.30,0.98],[881.33,0.96],[881.345,0.88],[881.356,0.85],[881.365,0.9],[881.375,0.83],[881.39,0.95],[881.42,0.98],[881.45,0.97],[881.48,0.98],[881.51,0.99],[881.54,0.98],[881.57,0.99],[881.60,0.97],[881.63,0.94],[881.66,0.98],[881.69,0.9],[881.70,0.75],[881.71,0.9],[881.74,0.98],[881.77,0.99],[881.80,0.97],[881.82,0.92],[881.84,0.98],[881.87,0.99],[881.90,0.97],[881.917,0.82],[881.93,0.97],[881.96,0.99],[881.99,1.0],[882.02,0.99],[882.05,0.98],[882.08,0.99],[882.11,0.97],[882.14,0.98],[882.17,0.99],[882.20,0.97],[882.23,0.96],[882.245,0.93],[882.26,0.97],[882.29,0.98],[882.32,0.97],[882.35,0.94],[882.375,0.88],[882.39,0.82],[882.41,0.92],[882.44,0.93],[882.465,0.87],[882.49,0.93],[882.52,0.92],[882.55,0.9],[882.575,0.84],[882.59,0.8],[882.61,0.76],[882.63,0.65],[882.65,0.45],[882.668,0.29],[882.685,0.48],[882.70,0.68],[882.72,0.76],[882.75,0.8],[882.77,0.86],[882.80,0.92],[882.83,0.95],[882.86,0.94],[882.89,0.82],[882.91,0.94],[882.94,0.96],[882.97,0.97],[883.00,0.95],[883.01,0.86],[883.03,0.95],[883.066,0.82],[883.08,0.93],[883.10,0.88],[883.12,0.95],[883.15,0.86],[883.17,0.95],[883.215,0.83],[883.24,0.95],[883.27,0.97],[883.30,0.96],[883.33,0.97],[883.36,0.96],[883.39,0.97],[883.42,0.96],[883.45,0.97],[883.47,0.93],[883.49,0.97],[883.50,0.96]]
const p9Model = [[880.10,0.98],[880.13,0.99],[880.155,0.96],[880.18,0.99],[880.21,1.0],[880.24,0.99],[880.26,0.92],[880.277,0.8],[880.29,0.86],[880.305,0.75],[880.317,0.82],[880.328,0.72],[880.34,0.8],[880.355,0.86],[880.37,0.8],[880.38,0.82],[880.40,0.94],[880.425,0.75],[880.45,0.95],[880.48,0.99],[880.51,0.98],[880.525,0.86],[880.536,0.7],[880.55,0.87],[880.564,0.78],[880.58,0.95],[880.61,0.99],[880.64,0.98],[880.67,0.97],[880.69,0.87],[880.71,0.72],[880.73,0.9],[880.76,0.96],[880.78,0.94],[880.80,0.92],[880.82,0.9],[880.836,0.88],[880.86,0.88],[880.88,0.78],[880.90,0.6],[880.917,0.4],[880.93,0.58],[880.945,0.76],[880.963,0.78],[880.975,0.84],[880.987,0.79],[881.00,0.9],[881.03,0.95],[881.06,0.98],[881.09,0.98],[881.11,0.95],[881.125,0.88],[881.14,0.96],[881.17,0.97],[881.19,0.86],[881.21,0.97],[881.24,0.99],[881.27,0.99],[881.30,1.0],[881.33,0.98],[881.345,0.9],[881.356,0.86],[881.365,0.92],[881.375,0.83],[881.39,0.96],[881.42,0.99],[881.45,1.0],[881.48,1.0],[881.51,0.99],[881.54,1.0],[881.57,1.0],[881.60,0.99],[881.63,0.98],[881.66,0.99],[881.69,0.9],[881.70,0.73],[881.71,0.9],[881.74,0.99],[881.77,1.0],[881.80,0.99],[881.82,0.95],[881.84,1.0],[881.87,1.0],[881.90,0.98],[881.917,0.8],[881.93,0.98],[881.96,1.0],[881.99,1.0],[882.02,1.0],[882.05,1.0],[882.08,1.0],[882.11,0.99],[882.14,1.0],[882.17,1.0],[882.20,0.99],[882.23,0.98],[882.245,0.95],[882.26,0.99],[882.29,1.0],[882.32,0.99],[882.35,0.97],[882.375,0.9],[882.39,0.82],[882.41,0.94],[882.44,0.96],[882.465,0.88],[882.49,0.96],[882.52,0.96],[882.55,0.94],[882.575,0.88],[882.59,0.84],[882.61,0.78],[882.63,0.66],[882.65,0.45],[882.668,0.27],[882.685,0.46],[882.70,0.68],[882.72,0.78],[882.75,0.82],[882.77,0.88],[882.80,0.94],[882.83,0.97],[882.86,0.96],[882.89,0.8],[882.91,0.96],[882.94,0.99],[882.97,1.0],[883.00,0.96],[883.01,0.8],[883.03,0.96],[883.06,0.93],[883.08,0.97],[883.10,0.77],[883.12,0.96],[883.15,0.82],[883.17,0.96],[883.215,0.8],[883.24,0.97],[883.27,1.0],[883.30,0.99],[883.33,0.95],[883.36,1.0],[883.39,0.99],[883.41,1.0]]
const p9ModelRange = [880.098, 883.415]
const p9Fit = [[880.50, 882.95]]

// percent values on a regular wavelength grid -> [wl, flux] pairs
function grid(start, step, vals) {
  return vals.map((v, i) => [+(start + i * step).toFixed(4), v / 100])
}

const panels = [
  { min: 705.0, max: 708.0, ticks: p1Ticks, minor: 0.1, digits: 1, obs: grid(705.0, 0.01, p1Obs), model: grid(705.09, 0.01, p1Model), range: p1ModelRange, fit: p1Fit },
  { min: 708.1, max: 712.0, ticks: p2Ticks, minor: 0.2, digits: 0, obs: grid(708.1, 0.02, p2Obs), model: grid(708.18, 0.02, p2Model), range: p2ModelRange, fit: p2Fit },
  { min: 712.1, max: 717.5, ticks: p3Ticks, minor: 0.2, digits: 0, obs: grid(712.1, 0.02, p3Obs), model: grid(712.18, 0.02, p3Model), range: p3ModelRange, fit: p3Fit },
  { min: 764.0, max: 772.5, ticks: p4Ticks, minor: 0.5, digits: 0, obs: p4Obs, model: grid(764.08, 0.03, p4Model), range: p4ModelRange, fit: p4Fit },
  { min: 816.0, max: 822.5, ticks: p5Ticks, minor: 0.2, digits: 0, obs: p5Obs, model: p5Model, range: p5ModelRange, fit: p5Fit },
  { min: 840.1, max: 848.0, ticks: p6Ticks, minor: 0.5, digits: 0, obs: p6Obs, model: p6Model, range: p6ModelRange, fit: p6Fit },
  { min: 848.5, max: 856.0, ticks: p7Ticks, minor: 0.5, digits: 0, obs: p7Obs, model: p7Model, range: p7ModelRange, fit: p7Fit },
  { min: 864.0, max: 871.0, ticks: p8Ticks, minor: 0.2, digits: 0, obs: p8Obs, model: p8Model, range: p8ModelRange, fit: p8Fit },
  { min: 880.0, max: 883.5, ticks: p9Ticks, minor: 0.1, digits: 1, obs: p9Obs, model: p9Model, range: p9ModelRange, fit: p9Fit }
]

const FONT = 'Liberation Sans, Arial, sans-serif'
const BLACK = '#000'

function minorTicks(p) {
  const out = []
  const n0 = Math.ceil(p.min / p.minor - 1e-6)
  const n1 = Math.floor(p.max / p.minor + 1e-6)
  for (let n = n0; n <= n1; n++) {
    const v = +(n * p.minor).toFixed(4)
    if (!p.ticks.some(t => Math.abs(t - v) < 1e-6)) out.push(v)
  }
  return out
}

// green: model inside the fitted windows; a window running past the model end continues along zero
function fitLine(p) {
  const out = []
  p.fit.forEach(([a, b], k) => {
    if (k > 0) out.push([a, '-'])
    p.model.forEach(pt => {
      if (pt[0] >= a && pt[0] <= b) out.push(pt)
    })
    if (b > p.range[1]) {
      out.push([p.range[1], '-'], [p.range[1], 0], [b, 0])
    }
  })
  return out
}

const grids = [], xAxes = [], yAxes = [], series = []

panels.forEach((p, i) => {
  grids.push({ left: 52, width: 1018, top: 5 + 167 * i, height: 96, outerBoundsMode: 'none' })
  const minors = minorTicks(p)
  const xBase = {
    type: 'value', gridIndex: i, min: p.min, max: p.max,
    splitLine: { show: false },
    axisLine: { show: false, onZero: false },
    axisLabel: { show: false },
    axisTick: { show: false }
  }
  const line = { show: true, onZero: false, lineStyle: { color: BLACK, width: 1 } }
  const last = i === panels.length - 1
  // bottom: line, major ticks, labels
  xAxes.push(Object.assign({}, xBase, {
    position: 'bottom',
    axisLine: line,
    axisTick: { show: true, inside: true, length: 9, customValues: p.ticks, lineStyle: { color: BLACK, width: 1 } },
    axisLabel: {
      show: true, customValues: p.ticks, formatter: v => Number(v).toFixed(p.digits),
      color: BLACK, fontSize: 13, fontFamily: FONT, margin: 7
    },
    name: last ? 'Wavelength [nm]' : '',
    nameLocation: 'middle', nameGap: 25,
    nameTextStyle: { color: BLACK, fontSize: 12, fontFamily: FONT }
  }))
  // bottom minor ticks
  xAxes.push(Object.assign({}, xBase, {
    position: 'bottom',
    axisTick: { show: true, inside: true, length: 4, customValues: minors, lineStyle: { color: BLACK, width: 1 } }
  }))
  // top mirror
  xAxes.push(Object.assign({}, xBase, {
    position: 'top',
    axisLine: line,
    axisTick: { show: true, inside: true, length: 9, customValues: p.ticks, lineStyle: { color: BLACK, width: 1 } }
  }))
  xAxes.push(Object.assign({}, xBase, {
    position: 'top',
    axisTick: { show: true, inside: true, length: 4, customValues: minors, lineStyle: { color: BLACK, width: 1 } }
  }))

  const yBase = {
    type: 'value', gridIndex: i, min: 0, max: 1, interval: 0.5,
    splitLine: { show: false },
    axisLine: line,
    axisTick: { show: true, inside: true, length: 19, lineStyle: { color: BLACK, width: 1 } },
    minorTick: { show: true, splitNumber: 5, length: 10, lineStyle: { color: BLACK, width: 1 } }
  }
  yAxes.push(Object.assign({}, yBase, {
    position: 'left',
    axisLabel: { show: true, formatter: v => v.toFixed(1), color: BLACK, fontSize: 13, fontFamily: FONT, margin: 5 },
    name: 'norm. Flux', nameLocation: 'middle', nameGap: 33, nameRotate: 90,
    nameTextStyle: { color: BLACK, fontSize: 12, fontFamily: FONT }
  }))
  yAxes.push(Object.assign({}, yBase, { position: 'right', axisLabel: { show: false } }))

  const common = { type: 'line', xAxisIndex: 4 * i, yAxisIndex: 2 * i, showSymbol: false, symbol: 'none', silent: true, animation: false }
  series.push(Object.assign({}, common, {
    data: p.obs, lineStyle: { color: BLACK, width: 1 }, z: 2
  }))
  const modelLine = [[p.min, 0], [p.range[0], 0]].concat(p.model, [[p.range[1], 0], [p.max, 0]])
  series.push(Object.assign({}, common, {
    data: modelLine, lineStyle: { color: '#ff0000', width: 1 }, z: 3
  }))
  const fit = fitLine(p)
  series.push(Object.assign({}, common, {
    data: fit, lineStyle: { color: '#00ff00', width: 3 }, z: 4
  }))
  series.push(Object.assign({}, common, {
    data: fit, lineStyle: { color: '#ff0000', width: 1, type: [1, 3] }, z: 5
  }))
})

const chart = echarts.init(document.getElementById('chart'), null, { renderer: 'canvas' })
chart.setOption({
  animation: false,
  backgroundColor: '#fff',
  grid: grids,
  xAxis: xAxes,
  yAxis: yAxes,
  series: series
})
</script>
</body>
</html>
